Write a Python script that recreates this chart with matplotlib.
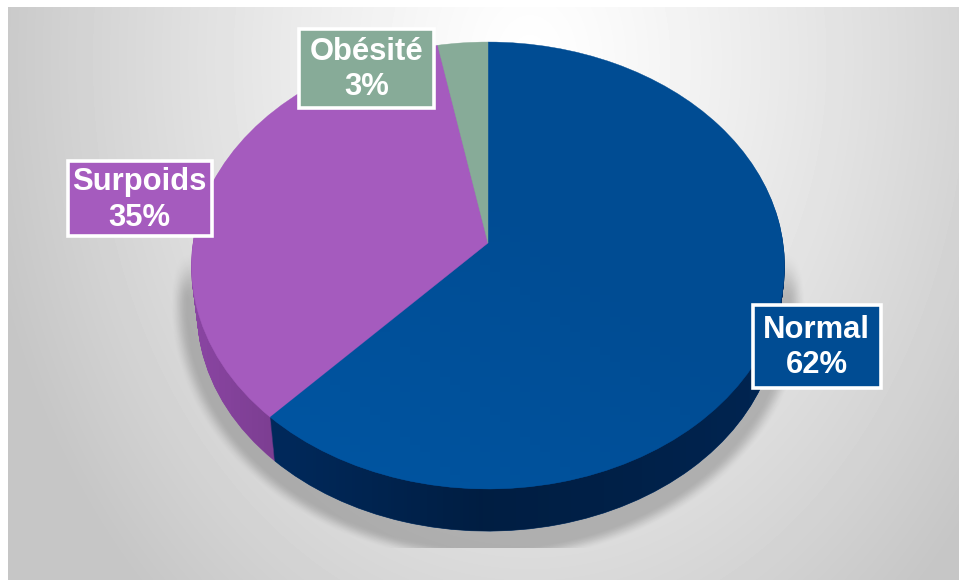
import numpy as np
import matplotlib
matplotlib.use("Agg")
import matplotlib.pyplot as plt
from matplotlib.colors import to_rgb
from matplotlib.patches import Polygon, Rectangle, Wedge
from matplotlib.transforms import Transform

categories = ["Normal", "Surpoids", "Obésité"]
shares = [62, 35, 3]
top_colors = ["#004c93", "#a55bbe", "#87ab98"]
side_colors = ["#002e66", "#8a45a2", "#6a8a79"]

WIDTH, HEIGHT = 959, 580
APEX_X, APEX_Y = 488.0, 243.0
SIDE_STEPS = 47


class PieProjection(Transform):
    """Tilts the unit disk of the pie into pixel space with a little perspective."""

    input_dims = 2
    output_dims = 2

    def __init__(self, shift=0.0, shrink=1.0):
        super().__init__()
        self.shift = shift
        self.shrink = shrink

    def transform_non_affine(self, values):
        u, v = values[:, 0], values[:, 1]
        w = 1 + 0.1007 * v
        x = APEX_X + self.shrink * 295.0 * u / w
        y = APEX_Y + self.shift - self.shrink * 221.2 * v / w
        return np.column_stack([x, y])


def smoothstep(low, high, values):
    t = np.clip((values - low) / (high - low), 0, 1)
    return t * t * (3 - 2 * t)


def side_layer(step):
    return PieProjection(shift=step, shrink=1 - 0.02 * step / SIDE_STEPS)


fig = plt.figure(figsize=(WIDTH / 100, HEIGHT / 100), dpi=100, facecolor="white")
ax = fig.add_axes([0, 0, 1, 1])

wedges, _ = ax.pie(shares, colors=top_colors, startangle=90, counterclock=False)
ax.axis("off")

# background: soft grey radial gradient, white near the top centre
xx, yy = np.meshgrid(np.arange(8, WIDTH) + 0.5, np.arange(7, HEIGHT) + 0.5)
dist = np.sqrt(((xx - 530) / 530) ** 2 + ((yy - 60) / 700) ** 2)
grey = np.clip(255 - 54 * dist ** 1.2, 198, 255) / 255
ax.imshow(grey, cmap="gray", vmin=0, vmax=1, extent=(8, WIDTH, HEIGHT, 7),
          aspect="auto", zorder=0, interpolation="bilinear")

# drop shadow under the pie, cut off flat along the bottom
sx, sy = np.meshgrid(np.arange(150, 830) + 0.5, np.arange(230, 548) + 0.5)
rho = np.sqrt(((sx - 488) / 300) ** 2 + ((sy - 305) / 243) ** 2)
shadow = np.zeros(sx.shape + (4,))
shadow[..., 3] = 0.21 * (1 - smoothstep(1.0, 1.06, rho)) * smoothstep(250, 300, sy)
ax.imshow(shadow, extent=(150, 830, 548, 230), aspect="auto", zorder=1)

# side wall of the disk, stacked from the bottom edge up to the top face
for step in range(SIDE_STEPS, 0, -1):
    layer = side_layer(step)
    for wedge, color in zip(wedges, side_colors):
        ax.add_patch(Wedge((0, 0), 1, wedge.theta1, wedge.theta2, facecolor=color,
                           edgecolor=color, linewidth=0.5, zorder=2,
                           transform=layer + ax.transData))

# the wall gets darker towards the front of the disk
theta = np.radians(np.linspace(180, 360, 200))
rim = np.column_stack([np.cos(theta), np.sin(theta)])
wall_outline = np.vstack([PieProjection().transform(rim), side_layer(SIDE_STEPS).transform(rim[::-1])])
wall_clip = Polygon(wall_outline, transform=ax.transData, facecolor="none", edgecolor="none")
ax.add_patch(wall_clip)
wall_x = np.arange(190, 790) + 0.5
wall_shade = np.zeros((1, wall_x.size, 4))
wall_shade[..., 3] = np.interp(wall_x, [195, 272, 480, 620, 780], [0, 0.1, 0.35, 0.3, 0.2])
shade_img = ax.imshow(wall_shade, extent=(190, 790, 540, 260), aspect="auto", zorder=2.5)
shade_img.set_clip_path(wall_clip)

top_face = PieProjection()
for wedge, color in zip(wedges, top_colors):
    wedge.set_transform(top_face + ax.transData)
    wedge.set_edgecolor(color)
    wedge.set_linewidth(0.3)
    wedge.set_zorder(3)

# blue face is slightly brighter towards the lower left
gx, gy = np.meshgrid(np.linspace(0, 1, 60), np.linspace(0, 1, 60))
sheen = np.ones(gx.shape + (4,))
sheen[..., :3] = to_rgb("#0058a6")
sheen[..., 3] = 0.8 * np.clip(gy + (1 - gx) - 0.8, 0, 1)
sheen_img = ax.imshow(sheen, extent=(190, 790, 490, 40), aspect="auto", zorder=3.5)
sheen_img.set_clip_path(wedges[0])

# label boxes as (left, top, right, bottom)
label_boxes = [(752.5, 304.5, 880.5, 387.5), (67.5, 160.5, 211.5, 236), (299, 28.5, 433.5, 107.5)]
for name, share, color, (x0, y0, x1, y1) in zip(categories, shares, top_colors, label_boxes):
    ax.add_patch(Rectangle((x0, y0), x1 - x0, y1 - y0, facecolor=color, edgecolor="white",
                           linewidth=2.6, zorder=4))
    ax.text((x0 + x1) / 2, (y0 + y1) / 2 + 1.5, f"{name}\n{share}%", color="white",
            family="Liberation Sans", weight="bold", fontsize=22.3, ha="center", va="center",
            linespacing=1.25, zorder=5)

ax.set_aspect("auto")
ax.set_xlim(0, WIDTH)
ax.set_ylim(HEIGHT, 0)

fig.savefig("out.png", dpi=100)
